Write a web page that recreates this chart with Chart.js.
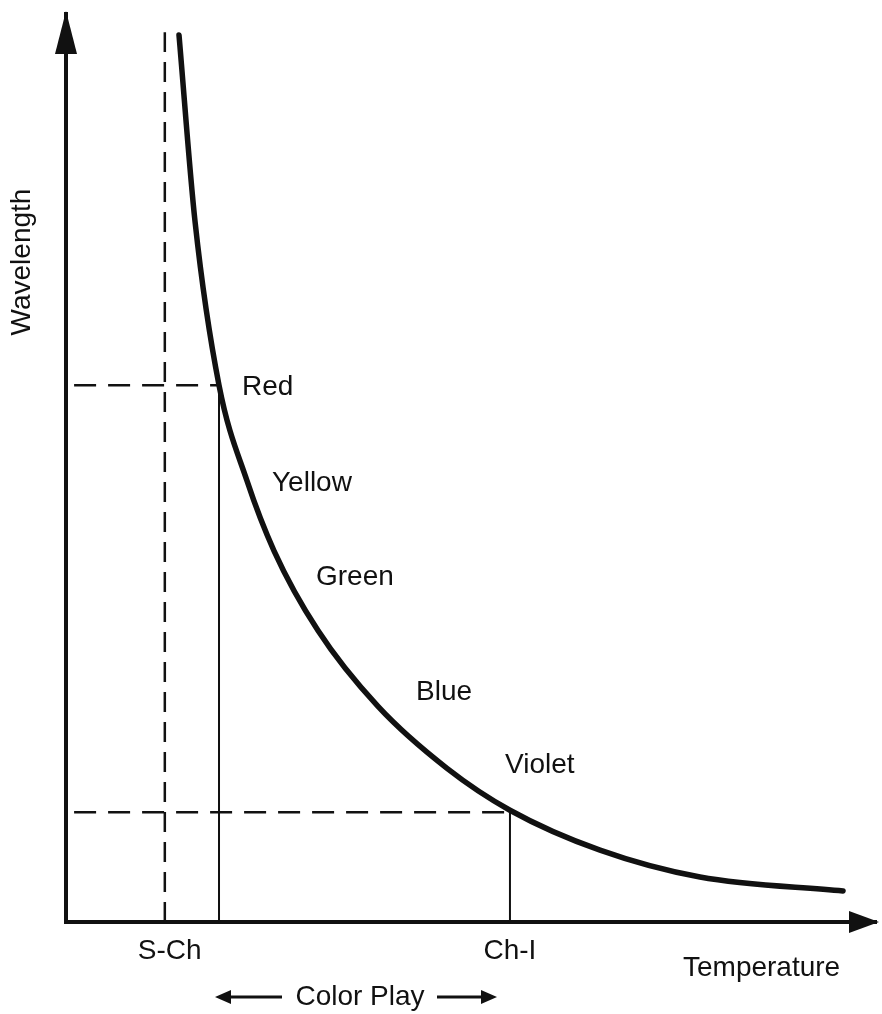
<!DOCTYPE html>
<html lang="en">
<head>
    <meta charset="UTF-8">
    <title>Wavelength vs Temperature</title>
    <script src="https://cdn.jsdelivr.net/npm/chart.js"></script>
    <style>
        html, body { margin: 0; padding: 0; background: #fff; }
        #wrap { width: 882px; height: 1014px; }
    </style>
</head>
<body>
    <div id="wrap"><canvas id="chart" width="882" height="1014"></canvas></div>

    <script>
        // curve (temperature 0-100, wavelength 0-100)
        const curveTemp = [13.95, 15.93, 18.89, 22.35, 25.68, 31.11, 38.52, 47.04, 54.81, 65.93, 78.27, 95.93];
        const curveWave = [97.69, 77.14, 59.12, 48.57, 40.88, 32.09, 23.74, 16.92, 12.31, 7.91, 4.95, 3.41];

        // reference marks
        const schTemp = 12.2;        // dashed vertical line
        const schTop = 98.0;
        const redPoint = [18.89, 59.1];
        const violetPoint = [54.81, 12.1];

        const tickValues = [12.8, 54.8];
        const tickLabels = ['S-Ch', 'Ch-I'];

        const colorNames = ['Red', 'Yellow', 'Green', 'Blue', 'Violet'];
        const colorNameTemp = [21.73, 25.43, 30.86, 43.21, 54.20];
        const colorNameWave = [58.9, 48.35, 37.91, 25.27, 17.25];

        const FONT = '"Liberation Sans", Arial, sans-serif';
        const INK = '#111';

        function pts(xs, ys) {
            return xs.map((x, i) => ({ x: x, y: ys[i] }));
        }

        // arrows, axis names and colour names
        const decorations = {
            id: 'decorations',
            afterDraw(chart) {
                const ctx = chart.ctx;
                const a = chart.chartArea;
                const xs = chart.scales.x, ys = chart.scales.y;
                ctx.save();
                ctx.fillStyle = INK;
                ctx.strokeStyle = INK;

                // y axis arrowhead
                ctx.beginPath();
                ctx.moveTo(a.left, a.top - 3);
                ctx.lineTo(a.left - 11, a.top + 40);
                ctx.lineTo(a.left + 11, a.top + 40);
                ctx.closePath();
                ctx.fill();

                // x axis arrowhead
                ctx.beginPath();
                ctx.moveTo(a.right + 3, a.bottom);
                ctx.lineTo(a.right - 27, a.bottom - 11);
                ctx.lineTo(a.right - 27, a.bottom + 11);
                ctx.closePath();
                ctx.fill();

                ctx.font = '28px ' + FONT;
                ctx.textBaseline = 'middle';

                // colour names along the curve
                ctx.textAlign = 'left';
                colorNames.forEach((name, i) => {
                    ctx.fillText(name, xs.getPixelForValue(colorNameTemp[i]), ys.getPixelForValue(colorNameWave[i]));
                });

                // axis names
                ctx.fillText('Temperature', 683, 968);
                ctx.save();
                ctx.translate(22, 262);
                ctx.rotate(-Math.PI / 2);
                ctx.textAlign = 'center';
                ctx.fillText('Wavelength', 0, 0);
                ctx.restore();

                // color play range
                ctx.textAlign = 'center';
                ctx.fillText('Color Play', 360, 997);
                ctx.lineWidth = 3;
                ctx.beginPath();
                ctx.moveTo(228, 997); ctx.lineTo(282, 997);
                ctx.moveTo(437, 997); ctx.lineTo(484, 997);
                ctx.stroke();
                ctx.beginPath();
                ctx.moveTo(215, 997); ctx.lineTo(231, 990); ctx.lineTo(231, 1004); ctx.closePath();
                ctx.moveTo(497, 997); ctx.lineTo(481, 990); ctx.lineTo(481, 1004); ctx.closePath();
                ctx.fill();
                ctx.restore();
            }
        };

        const ctx = document.getElementById('chart').getContext('2d');
        const chart = new Chart(ctx, {
            type: 'scatter',
            data: {
                datasets: [{
                    label: 'curve',
                    data: pts(curveTemp, curveWave),
                    showLine: true,
                    borderColor: INK,
                    borderWidth: 5.5,
                    cubicInterpolationMode: 'monotone',
                    pointRadius: 0,
                    borderCapStyle: 'round'
                }, {
                    label: 'S-Ch',
                    data: [{ x: schTemp, y: 0 }, { x: schTemp, y: schTop }],
                    showLine: true,
                    borderColor: INK,
                    borderWidth: 2.5,
                    borderDash: [20, 10],
                    pointRadius: 0
                }, {
                    label: 'red drop',
                    data: [{ x: redPoint[0], y: 0 }, { x: redPoint[0], y: redPoint[1] }],
                    showLine: true,
                    borderColor: INK,
                    borderWidth: 2,
                    pointRadius: 0
                }, {
                    label: 'red level',
                    data: [{ x: 1, y: redPoint[1] }, { x: redPoint[0], y: redPoint[1] }],
                    showLine: true,
                    borderColor: INK,
                    borderWidth: 2.5,
                    borderDash: [22, 12],
                    pointRadius: 0
                }, {
                    label: 'violet drop',
                    data: [{ x: violetPoint[0], y: 0 }, { x: violetPoint[0], y: violetPoint[1] }],
                    showLine: true,
                    borderColor: INK,
                    borderWidth: 2,
                    pointRadius: 0
                }, {
                    label: 'violet level',
                    data: [{ x: 1, y: violetPoint[1] }, { x: violetPoint[0], y: violetPoint[1] }],
                    showLine: true,
                    borderColor: INK,
                    borderWidth: 2.5,
                    borderDash: [22, 12],
                    pointRadius: 0
                }]
            },
            options: {
                responsive: false,
                animation: false,
                layout: { padding: { top: 14, right: 6, left: 0, bottom: 0 } },
                plugins: {
                    legend: { display: false },
                    tooltip: { enabled: false }
                },
                scales: {
                    x: {
                        type: 'linear',
                        min: 0,
                        max: 100,
                        grid: { display: false },
                        border: { display: true, color: INK, width: 4 },
                        afterBuildTicks(scale) {
                            scale.ticks = tickValues.map(v => ({ value: v }));
                        },
                        afterFit(scale) { scale.height = 1014 - 922; },
                        ticks: {
                            autoSkip: false,
                            maxRotation: 0,
                            padding: 4,
                            color: INK,
                            font: { family: FONT, size: 28 },
                            callback: (value, index) => tickLabels[index]
                        }
                    },
                    y: {
                        type: 'linear',
                        min: 0,
                        max: 100,
                        grid: { display: false },
                        border: { display: true, color: INK, width: 4 },
                        ticks: { display: false },
                        afterFit(scale) { scale.width = 66; }
                    }
                }
            },
            plugins: [decorations]
        });
    </script>
</body>
</html>
